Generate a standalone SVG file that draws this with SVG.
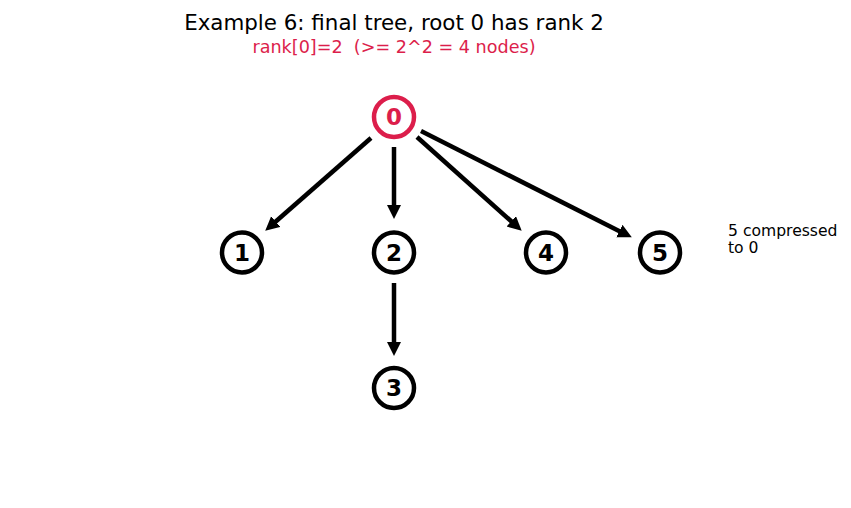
<svg xmlns="http://www.w3.org/2000/svg" width="851" height="508" viewBox="0 0 851 508">
<defs>
<marker id="ah" markerUnits="userSpaceOnUse" markerWidth="16" markerHeight="16" refX="3" refY="7" orient="auto">
<path d="M0,0 L14,7 L0,14 z" fill="#000"/>
</marker>
<style>
.t{font-family:"DejaVu Sans",Verdana,sans-serif;white-space:pre;}
.n circle{fill:#fff;stroke:#000;stroke-width:4.5;}
.n text{font-family:"DejaVu Sans",Verdana,sans-serif;font-weight:bold;font-size:23px;text-anchor:middle;fill:#000;}
.e line{stroke:#000;stroke-width:4.5;marker-end:url(#ah);}
</style>
</defs>
<rect width="851" height="508" fill="#fff"/>
<text class="t" x="394" y="30" font-size="21.4" text-anchor="middle" fill="#000">Example 6: final tree, root 0 has rank 2</text>
<text class="t" x="394" y="53" font-size="17.6" text-anchor="middle" fill="#dc1e4b" xml:space="preserve">rank[0]=2  (&gt;= 2^2 = 4 nodes)</text>
<g id="edges" class="e">
<line x1="371" y1="138" x2="273.5" y2="223.5"/>
<line x1="394" y1="147" x2="394" y2="208"/>
<line x1="417" y1="137" x2="513.5" y2="223.3"/>
<line x1="421" y1="131" x2="622" y2="232.4"/>
<line x1="394" y1="283" x2="394" y2="345"/>
</g>
<g id="node0" class="n"><circle cx="394" cy="117" r="20" style="stroke:#dc1e4b"/><text x="394" y="125.3" style="fill:#dc1e4b">0</text></g>
<g id="node1" class="n"><circle cx="242" cy="252.5" r="20"/><text x="242" y="260.8">1</text></g>
<g id="node2" class="n"><circle cx="394" cy="252.5" r="20"/><text x="394" y="260.8">2</text></g>
<g id="node4" class="n"><circle cx="546" cy="252.5" r="20"/><text x="546" y="260.8">4</text></g>
<g id="node5" class="n"><circle cx="660" cy="252.5" r="20"/><text x="660" y="260.8">5</text></g>
<g id="node3" class="n"><circle cx="394" cy="388" r="20"/><text x="394" y="396.3">3</text></g>
<text class="t" x="728" y="236" font-size="15.6" fill="#000">5 compressed</text>
<text class="t" x="728" y="253" font-size="15.6" fill="#000">to 0</text>
</svg>
